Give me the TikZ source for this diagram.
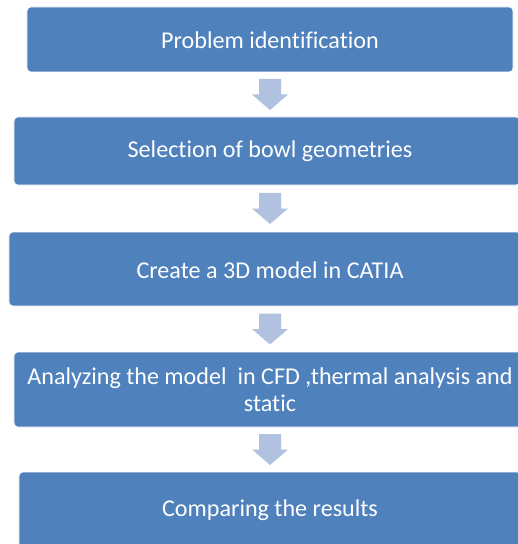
\documentclass[tikz,border=0pt]{standalone}
\usepackage{fontspec}
\setmainfont[Ligatures=NoCommon]{Carlito}
\usetikzlibrary{calc}
\definecolor{boxblue}{HTML}{4F81BD}
\definecolor{arrowblue}{HTML}{B0C2DF}
\tikzset{
  stagebox/.style={fill=boxblue, draw=white, line width=0.6bp, rounded corners=4bp,
    inner sep=0pt},
  stagetext/.style={text=white, font=\fontsize{24.2}{27}\selectfont, align=center, inner sep=0pt},
  blockarrow/.style={fill=arrowblue, draw=none}
}
% block arrow pointing down, centred on a coordinate
\newcommand\downblock[1]{%
  \fill[blockarrow] (#1) +(-11,-15.5) -- +(11,-15.5) -- +(11,0) -- +(18,0)
    -- +(0,15.5) -- +(-18,0) -- +(-11,0) -- cycle;}
\begin{document}
\begin{tikzpicture}[x=1bp, y=-1bp]
  \clip (0,0) rectangle (518,544);
  \fill[white] (0,0) rectangle (518,544);
  % stage boxes
  \node[stagebox, minimum width=486bp, minimum height=65bp] (b1) at (270,39.5) {};
  \node[stagebox, minimum width=506bp, minimum height=68bp] (b2) at (267,151) {};
  \node[stagebox, minimum width=512bp, minimum height=74bp] (b3) at (265,269) {};
  \node[stagebox, minimum width=508bp, minimum height=75bp] (b4) at (268,389.5) {};
  \node[stagebox, minimum width=502bp, minimum height=90bp] (b5) at (270,517) {};
  % labels
  \node[stagetext] (t1) at (270,40) {Problem identification};
  \node[stagetext] (t2) at (270,151) {Selection of bowl geometries};
  \node[stagetext] (t3) at (270,270) {Create a 3D model in CATIA};
  \node[stagetext] (t4) at (270,390) {Analyzing the model\ \ in CFD ,thermal analysis and\\static};
  \node[stagetext] (t5) at (270,510) {Comparing the results};
  % block arrows between stages
  \coordinate (m1) at ($(t1 |- b1.south)!0.5!(t1 |- b2.north)$);
  \coordinate (m2) at ($(t1 |- b2.south)!0.5!(t1 |- b3.north)$);
  \coordinate (m3) at ($(t1 |- b3.south)!0.5!(t1 |- b4.north)$);
  \coordinate (m4) at ($(t1 |- b4.south)!0.5!(t1 |- b5.north)$);
  \downblock{m1}
  \downblock{m2}
  \downblock{m3}
  \downblock{m4}
\end{tikzpicture}
\end{document}
